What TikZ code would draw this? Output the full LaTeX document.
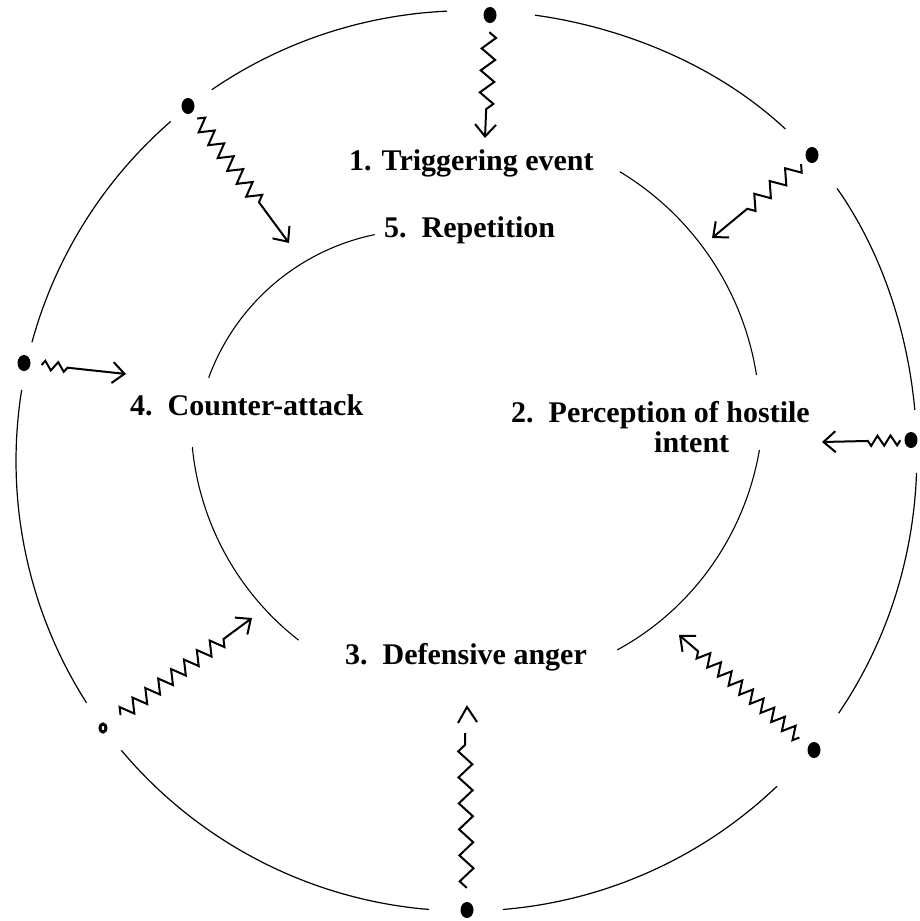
\documentclass[tikz,border=0pt]{standalone}
\usepackage{fontspec}
\setmainfont{Liberation Serif}
\usetikzlibrary{decorations.pathmorphing, arrows.meta, shapes.geometric}
\begin{document}
\begin{tikzpicture}[x=1pt,y=-1pt,
  declare function={rr(\t)=450+11*exp(-10*(1-cos(\t-42)));},
  lbl/.style={inner sep=0pt, font=\fontsize{30}{34}\selectfont\bfseries, anchor=base west},
  dotn/.style={ellipse, fill=black, inner sep=0pt, minimum width=13pt, minimum height=16pt},
  ringn/.style={ellipse, draw=black, fill=white, line width=3pt, inner sep=0pt, minimum width=6pt, minimum height=8pt},
  rim/.style={line width=1.2pt},
  innerarc/.style={line width=1.1pt},
  sq/.style n args={4}{line width=2pt, decorate, decoration={zigzag, segment length=#1, amplitude=#2, pre=moveto, pre length=#3, post=lineto, post length=#4}},
  tipa/.style={-{Straight Barb[length=12pt,width=21pt]}},
]
\fill[white] (0,0) rectangle (920,921);
\useasboundingbox (0,0) rectangle (920,921);

% outer ring, broken at the dots
\foreach \a/\b in {6.5/36.3, 46.1/81.2, 92.4/124.4, 131/164.7, 170.9/212.5, 220/265.3, 274.7/313.7, 325.9/358.5}
  \draw[rim] plot[domain=\a:\b, samples=45, smooth, variable=\t] ({466+rr(\t)*cos(\t)}, {461-rr(\t)*sin(\t)});

% inner arcs
\draw[innerarc] plot[domain=8.9:58.9, samples=40, smooth, variable=\t] ({470+290*cos(\t)}, {420-290*sin(\t)});
\draw[innerarc] plot[domain=-57.4:-5.9, samples=40, smooth, variable=\t] ({470+(273+18*(\t+57.4)/51.5)*cos(\t)}, {420-(273+18*(\t+57.4)/51.5)*sin(\t)});
\draw[innerarc] plot[domain=185.6:232.1, samples=40, smooth, variable=\t] ({470+279*cos(\t)}, {420-279*sin(\t)});
\draw[innerarc] plot[domain=101.6:159.9, samples=40, smooth, variable=\t] ({420+225*cos(\t)}, {455-225*sin(\t)});

% labels
\node[lbl] (t1) at (349,170) {1. Triggering event};
\node[lbl] (t5) at (384,237) {5.\ \ Repetition};
\node[lbl] (t4) at (130,415) {4.\ \ Counter-attack};
\node[lbl, anchor=base east] (t2) at (810,422) {2.\ \ Perception of hostile};
\node[lbl] (t2b) at (654,452) {intent};
\node[lbl] (t3) at (345,664) {3.\ \ Defensive anger};

% dots
\node[dotn] (d1) at (490,15) {};
\node[dotn] (d2) at (188,106) {};
\node[dotn] (d3) at (812,155) {};
\node[dotn] (d4) at (24,363) {};
\node[dotn] (d5) at (911,440) {};
\node[dotn] (d6) at (814,750) {};
\node[dotn] (d7) at (467,910) {};
\node[ringn] (d8) at (103,728) {};

% arrow ends
\coordinate (e1) at (485,138);
\coordinate (e2) at (289,243);
\coordinate (e3) at (712,238);
\coordinate (e4) at (126,374);
\coordinate (e5) at (822,442);
\coordinate (e6) at (679,635);
\coordinate (e7) at (465,733);
\coordinate (e8) at (252,618);
\coordinate (f7) at (467,707);
\coordinate (f7l) at (458,723);
\coordinate (f7r) at (477,722);

% squiggly arrows
\draw[sq={22pt}{7pt}{9pt}{28pt}, tipa] (d1) -- (e1);
\draw[sq={16pt}{7pt}{8pt}{43pt}, tipa] (d2) -- (e2);
\draw[sq={20pt}{7pt}{7pt}{37pt}, tipa] (d3) -- (e3);
\draw[sq={13pt}{4.5pt}{11pt}{58pt}, tipa] (d4) -- (e4);
\draw[sq={13pt}{5pt}{4pt}{41pt}, tipa] (d5) -- (e5);
\draw[sq={14pt}{6.5pt}{12pt}{21pt}, tipa] (d6) -- (e6);
\draw[sq={26pt}{7pt}{14pt}{0pt}] (d7) -- (e7);
\draw[line width=2pt] (f7l) -- (f7) -- (f7r);
\draw[sq={16pt}{7pt}{17pt}{31pt}, tipa] (d8) -- (e8);
\end{tikzpicture}
\end{document}
